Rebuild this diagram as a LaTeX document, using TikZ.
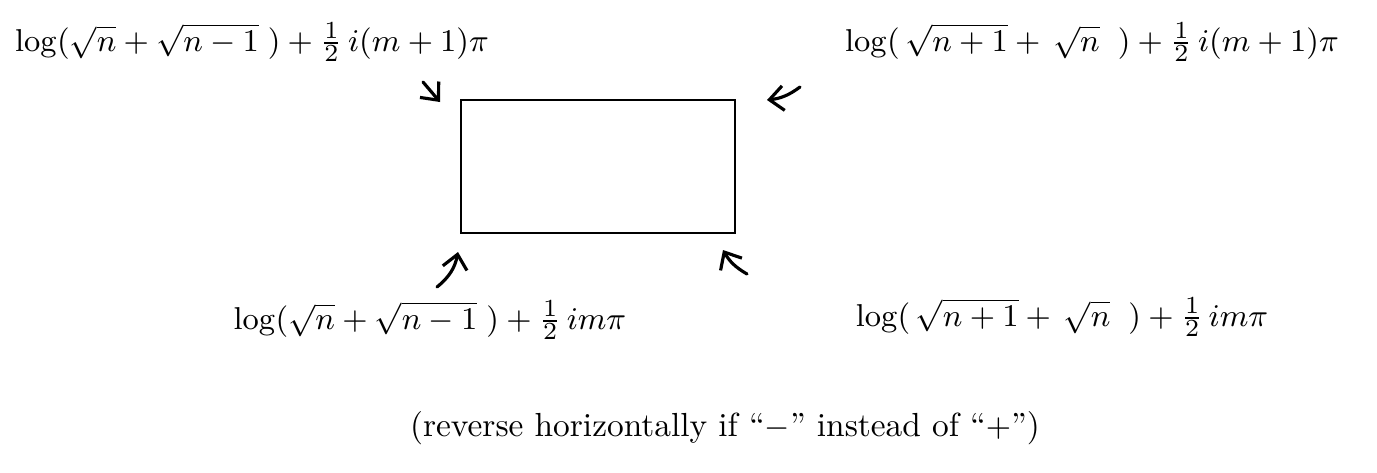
\documentclass[tikz,border=0pt]{standalone}
\usepackage{amsmath,amssymb}
\usepackage{tikz}
\usetikzlibrary{arrows.meta,positioning,calc}

\begin{document}
\begin{tikzpicture}[
    lbl/.style={inner sep=1pt, font=\fontsize{9.5}{11}\selectfont},
    arr/.style={-{Straight Barb[length=4pt,width=7pt]}, line width=0.9pt, line cap=round},
  ]
  \useasboundingbox (0,0) rectangle (13.77,4.72);

  % The box
  \node[draw, line width=0.8pt, minimum width=2.74cm, minimum height=1.33cm, inner sep=0pt] (box) at (5.98,3.055) {};

  % Corner labels
  \node[lbl] (tl) at (2.52,4.30) {$\log(\sqrt{n}+\sqrt{n-1}\;)+\tfrac{1}{2}\,i(m+1)\pi$};
  \node[lbl] (tr) at (10.92,4.30) {$\log(\,\sqrt{n+1}+\,\sqrt{n}\;\;)+\tfrac{1}{2}\,i(m+1)\pi$};
  \node[lbl] (bl) at (4.30,1.52) {$\log(\sqrt{n}+\sqrt{n-1}\;)+\tfrac{1}{2}\,im\pi$};
  \node[lbl] (br) at (10.62,1.55) {$\log(\,\sqrt{n+1}+\,\sqrt{n}\;\;)+\tfrac{1}{2}\,im\pi$};

  % Note
  \node[lbl] (note) at (7.25,0.44) {(reverse horizontally if ``$-$'' instead of ``$+$'')};

  % Arrow ends
  \coordinate (tl-a) at (4.23,3.90);
  \coordinate (tl-b) at (4.40,3.70);
  \coordinate (tr-a) at (8.00,3.85);
  \coordinate (tr-b) at (7.67,3.72);
  \coordinate (bl-a) at (4.37,1.85);
  \coordinate (bl-b) at (4.58,2.20);
  \coordinate (br-a) at (7.47,1.98);
  \coordinate (br-b) at (7.23,2.22);

  % Arrows
  \draw[arr] (tl-a) -- (tl-b);
  \draw[arr] (tr-a) to[bend left=15] (tr-b);
  \draw[arr] (bl-a) to[bend right=20] (bl-b);
  \draw[arr] (br-a) to[bend left=15] (br-b);
\end{tikzpicture}
\end{document}
